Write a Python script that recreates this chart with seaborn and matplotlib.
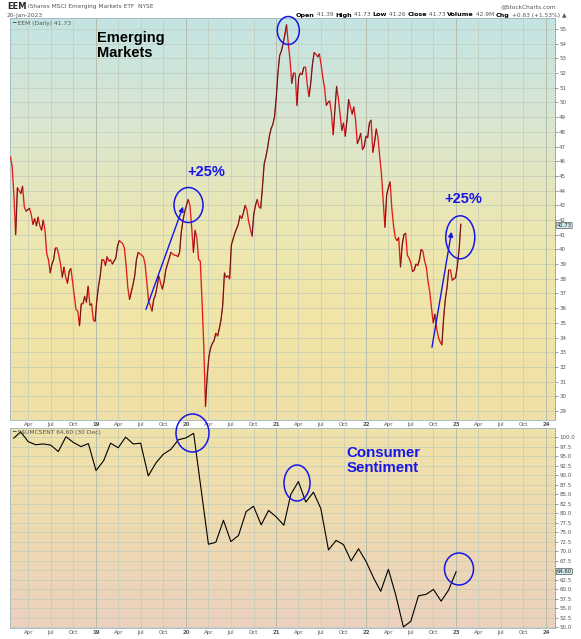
import matplotlib
matplotlib.use("Agg")
import matplotlib.pyplot as plt
import matplotlib.dates as mdates
import matplotlib.transforms as mtransforms
from matplotlib.colors import LinearSegmentedColormap
from matplotlib.patches import Ellipse, FancyArrowPatch
from matplotlib.collections import LineCollection
import seaborn as sns
import numpy as np
import pandas as pd

W, H = 581, 639

# EEM weekly closes (Fridays)
eem_2018 = [46.3, 45.6, 43.6, 41.0, 44.2, 44.0, 43.8, 44.3, 42.9, 42.6,
            42.7, 42.8, 42.4, 41.7, 42.1, 41.6, 42.2, 41.6, 41.3, 42.0,
            41.3, 39.7, 39.3, 38.4, 39.0, 39.3, 40.1, 40.1, 39.6, 39.0,
            38.1, 38.8, 38.1, 37.7, 38.5, 38.7, 37.8, 36.8, 35.9, 35.8,
            34.8, 36.3, 36.3, 36.8, 36.4, 37.5, 36.2, 36.3, 35.2, 35.1]
eem_2019 = [36.5, 37.5, 38.2, 39.3, 39.3, 38.9, 39.5, 39.2, 39.3, 39.0,
            39.2, 39.4, 40.2, 40.6, 40.5, 40.4, 40.1, 38.9, 37.4, 36.6,
            37.1, 37.6, 38.2, 39.3, 39.8, 39.7, 39.6, 39.5, 39.0, 37.8,
            36.5, 36.2, 35.8, 36.6, 36.9, 37.5, 38.2, 37.7, 37.3, 37.8,
            38.6, 39.0, 39.4, 39.8, 39.7, 39.6, 39.6, 39.5, 39.8, 41.2,
            42.0, 42.6]
eem_2020 = [43.0, 43.4, 43.0, 41.5, 39.8, 41.3, 40.8, 39.3, 39.2, 36.5,
            33.5, 29.3, 31.4, 32.7, 33.3, 33.6, 33.8, 34.3, 34.1, 34.6,
            35.2, 36.2, 38.4, 38.1, 38.2, 38.0, 40.3, 40.7, 41.1, 41.4,
            41.7, 42.3, 42.1, 42.5, 43.0, 42.7, 41.9, 41.4, 40.9, 42.4,
            43.0, 43.4, 42.9, 42.8, 44.2, 45.8, 46.3, 46.9, 47.7, 48.2,
            48.5, 49.0]
eem_2021 = [50.3, 52.0, 53.2, 53.5, 54.0, 54.6, 55.3, 54.0, 52.9, 51.3,
            52.0, 52.0, 49.8, 51.7, 52.0, 51.9, 52.4, 52.4, 51.2, 50.4,
            51.3, 52.6, 53.4, 53.3, 53.1, 53.3, 52.6, 51.7, 51.0, 49.8,
            50.0, 50.1, 49.3, 47.8, 49.5, 51.1, 50.3, 49.2, 48.1, 48.6,
            47.7, 48.8, 50.2, 49.7, 49.2, 49.7, 48.8, 47.2, 47.5, 47.9,
            46.8, 47.0, 47.7]
eem_2022 = [47.6, 48.6, 48.8, 46.6, 47.3, 48.2, 47.6, 46.3, 45.1, 43.3,
            41.5, 43.7, 44.2, 44.6, 42.8, 41.6, 40.8, 40.6, 40.8, 38.8,
            40.3, 41.0, 41.1, 39.6, 39.4, 39.1, 38.5, 38.6, 39.0, 38.9,
            39.3, 40.0, 39.9, 39.2, 38.8, 37.8, 37.1, 36.0, 35.0, 35.6,
            34.6, 34.0, 33.7, 33.5, 35.3, 36.6, 37.4, 38.6, 38.6, 37.9,
            38.0, 38.1]
eem_2023 = [38.9, 40.0, 41.73]

# University of Michigan consumer sentiment, monthly (Mar 2020 not shown on the chart)
sent_2018 = [99.7, 101.4, 98.8, 98.0, 98.2, 97.9, 96.2, 100.1, 98.6, 97.5, 98.3]
sent_2019 = [91.2, 93.8, 98.4, 97.2, 100.0, 98.2, 98.4, 89.8, 93.2, 95.5, 96.8, 99.3]
sent_2020 = [99.8, 101.0, 71.8, 72.3, 78.1, 72.5, 74.1, 80.4, 81.8, 76.9, 80.7]
sent_2021 = [79.0, 76.8, 84.9, 88.3, 82.9, 85.5, 81.2, 70.3, 72.8, 71.7, 67.4, 70.6]
sent_2022 = [67.2, 62.8, 59.4, 65.2, 58.4, 50.0, 51.5, 58.2, 58.6, 59.9, 56.8, 59.7]
sent_2023 = [64.6]

eem = eem_2018 + eem_2019 + eem_2020 + eem_2021 + eem_2022 + eem_2023
eem_dates = pd.date_range("2018-01-19", "2023-01-20", freq="W-FRI")
sent = sent_2018 + sent_2019 + sent_2020 + sent_2021 + sent_2022 + sent_2023
sent_dates = pd.date_range("2018-02-01", "2023-01-01", freq="MS")
sent_dates = sent_dates[sent_dates != pd.Timestamp("2020-03-01")]

df_eem = pd.DataFrame({"date": eem_dates, "close": eem})
df_sent = pd.DataFrame({"date": sent_dates, "value": sent})

sns.set_style("white")
plt.rcParams["font.family"] = ["DejaVu Sans"]

def fx(px):
    return px / W

def fy(py):
    return 1 - py / H

fig = plt.figure(figsize=(W / 100, H / 100), dpi=100)
fig.patch.set_facecolor("white")
ax1 = fig.add_axes([fx(10), fy(420), (555 - 10) / W, (420 - 18) / H])
ax2 = fig.add_axes([fx(10), fy(628), (555 - 10) / W, (628 - 428) / H])

# price line: red, with black segments on up weeks
sns.lineplot(data=df_eem, x="date", y="close", ax=ax1, color="#e31b1b", lw=0.95, zorder=3)
xn = mdates.date2num(df_eem["date"])
pts = np.column_stack([xn, df_eem["close"].values])
segs = np.stack([pts[:-1], pts[1:]], axis=1)
up = np.diff(df_eem["close"].values) > 0
ax1.add_collection(LineCollection(segs[up], colors="#1a1a1a", linewidths=0.6, alpha=0.75, zorder=4))

sns.lineplot(data=df_sent, x="date", y="value", ax=ax2, color="black", lw=0.8, zorder=3)

def gradient(ax, colors):
    cmap = LinearSegmentedColormap.from_list("bg", colors)
    ax.imshow(np.linspace(0, 1, 256).reshape(-1, 1), cmap=cmap, aspect="auto",
              extent=[0, 1, 0, 1], transform=ax.transAxes, zorder=0, origin="upper")

gradient(ax1, ["#c3e4e4", "#d8e6d2", "#ebe7b4", "#f1e5a6", "#f0e0a9"])
gradient(ax2, ["#f0e2aa", "#eedab0", "#ecd1bf"])

xlo, xhi = pd.Timestamp("2018-01-17"), pd.Timestamp("2024-02-06")
ax1.set_xlim(xlo, xhi)
ax2.set_xlim(xlo, xhi)
ax1.set_ylim(28.39, 55.75)
ax2.set_ylim(49.74, 102.4)

qticks = pd.date_range("2018-04-01", "2024-01-01", freq="QS")
qlabels = [f"{d.year % 100:02d}" if d.month == 1 else d.strftime("%b") for d in qticks]

for ax in (ax1, ax2):
    ax.set_xlabel("")
    ax.set_ylabel("")
    ax.set_xticks(qticks)
    ax.set_xticklabels(qlabels)
    for lab, d in zip(ax.get_xticklabels(), qticks):
        if d.month == 1:
            lab.set_fontweight("bold")
            lab.set_color("black")
    ax.tick_params(axis="x", length=0, pad=1.2, labelsize=4, colors="#555555")
    ax.yaxis.tick_right()
    ax.tick_params(axis="y", length=2, width=0.4, pad=1, labelsize=4,
                   colors="#555555", right=True, left=False)
    ax.grid(True, color="#c2cbb9", lw=0.5, zorder=1)
    for s in ax.spines.values():
        s.set_color("#9fb6c2")
        s.set_linewidth(0.6)
    ax.spines["right"].set_linestyle(":")
    ax.spines["right"].set_color("#777777")
    for d in qticks[qticks.month == 1]:
        ax.axvline(d, color="#b3bba8", lw=0.6, zorder=1)

ax1.set_yticks(range(29, 56))
ax1.set_yticklabels([str(v) for v in range(29, 56)])
sticks = np.arange(50.0, 100.1, 2.5)
ax2.set_yticks(sticks)
# the 65.0 label sits under the last-value tag, as on the original
ax2.set_yticklabels(["" if v == 65.0 else f"{v:.1f}" for v in sticks])

# current value tags on the right axis
tag = dict(boxstyle="round,pad=0.1", fc="#cfe9ef", ec="#333333", lw=0.4)
ax1.text(1.003, eem[-1] - 0.1, f"{eem[-1]:.2f}", transform=mtransforms.blended_transform_factory(ax1.transAxes, ax1.transData),
         fontsize=3.8, va="center", ha="left", bbox=tag, zorder=6)
ax2.text(1.003, sent[-1], f"{sent[-1]:.2f}", transform=mtransforms.blended_transform_factory(ax2.transAxes, ax2.transData),
         fontsize=3.8, va="center", ha="left", bbox=tag, zorder=6)

# panel legends
ax1.text(0.004, 0.993, "━ EEM (Daily) 41.73", transform=ax1.transAxes, fontsize=4.3,
         va="top", ha="left", color="#555555", zorder=6)
ax2.text(0.004, 0.99, "━ \\$\\$UMCSENT 64.60 (30 Dec)", transform=ax2.transAxes, fontsize=4.3,
         va="top", ha="left", color="#555555", zorder=6)

# header
fig.text(fx(7), fy(6.5), "EEM", fontsize=6, weight="bold", va="center")
fig.text(fx(28), fy(6.5), "iShares MSCI Emerging Markets ETF  NYSE", fontsize=4.2, color="#555555", va="center")
fig.text(fx(7), fy(15), "20-Jan-2023", fontsize=4.2, color="#555555", va="center")
fig.text(fx(556), fy(6.5), "@StockCharts.com", fontsize=4.2, color="#555555", va="center", ha="right")
header = [("Open", True), (" 41.39 ", False), ("High", True), (" 41.73 ", False),
          ("Low", True), (" 41.26 ", False), ("Close", True), (" 41.73 ", False),
          ("Volume", True), (" 42.9M ", False), ("Chg", True), (" +0.63 (+1.53%) \u25b2", False)]
fig.canvas.draw()
rend = fig.canvas.get_renderer()
xpos = 296
for txt, bold in header:
    t = fig.text(fx(xpos), fy(15), txt, fontsize=4.6 if bold else 4.2,
                 weight="bold" if bold else "normal", color="black" if bold else "#555555", va="center")
    xpos += t.get_window_extent(rend).width

# annotations
blue = "#1616e8"
fig.text(fx(97), fy(31), "Emerging\nMarkets", fontsize=10.5, weight="bold", color="black",
         family=["Liberation Sans", "DejaVu Sans"], va="top", ha="left", linespacing=1.1)
fig.text(fx(383), fy(446), "Consumer\nSentiment", fontsize=10.8, weight="bold", color=blue,
         family=["Liberation Sans", "DejaVu Sans"], va="top", ha="center", linespacing=1.1)
for cx, cy in [(206, 172), (463, 199)]:
    fig.text(fx(cx), fy(cy), "+25%", fontsize=10.5, weight="bold", color=blue,
             family=["Liberation Sans", "DejaVu Sans"], va="center", ha="center")

for (cx, cy, w, h) in [(188.5, 205, 29, 35), (288.3, 30.5, 22, 28), (460.3, 237.3, 29, 43),
                       (192.5, 433, 33, 38), (297, 483, 26, 36), (459, 569, 29, 32)]:
    fig.add_artist(Ellipse((fx(cx), fy(cy)), w / W, h / H, transform=fig.transFigure,
                           fill=False, ec=blue, lw=1.1, zorder=10))

for (x0, y0, x1, y1) in [(145, 312, 184, 204), (431.5, 350, 452, 229)]:
    fig.add_artist(FancyArrowPatch((fx(x0), fy(y0)), (fx(x1), fy(y1)), transform=fig.transFigure,
                                   arrowstyle="-|>", mutation_scale=7, color=blue, lw=1.0, zorder=10))

fig.savefig("out.png", dpi=100, facecolor="white")
